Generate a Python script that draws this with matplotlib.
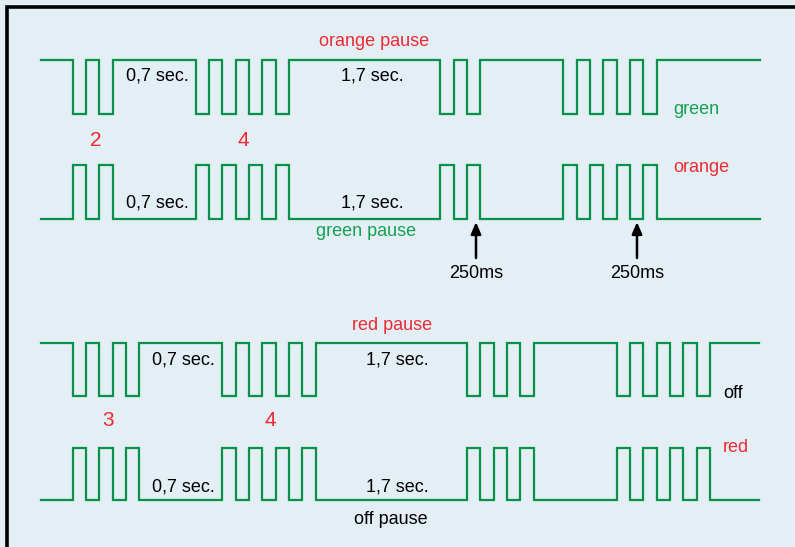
import matplotlib.pyplot as plt
import numpy as np

plt.rcParams['font.family'] = ['Liberation Sans', 'DejaVu Sans']

# timing (ms) as drawn in the diagram
pulse_ms = 250
short_pause_ms = 1556      # drawn for "0,7 sec."
long_pause_ms = 2837       # drawn for "1,7 sec."
lead_ms = 594
tail_ms = [1931, 1931, 919, 919]

# pulses per group for each trace
counts = [[2, 4, 2, 4], [2, 4, 2, 4], [3, 4, 3, 4], [3, 4, 3, 4]]
idle_high = [True, False, True, False]
# trace levels (pixel rows): (high, low)
levels = [(60, 114), (165, 219), (343, 396), (448, 500)]

BG = '#e3eef5'
GREEN_LINE = '#07924a'
GREEN_TXT = '#17a152'
RED = '#ee2a33'


def waveform(groups, tail):
    t = [0.0]
    s = [0]
    now = lead_ms
    pauses = [short_pause_ms, long_pause_ms, short_pause_ms]
    for i, n in enumerate(groups):
        for k in range(n):
            t += [now, now]
            s += [0, 1]
            now += pulse_ms
            t += [now, now]
            s += [1, 0]
            now += pulse_ms
        now -= pulse_ms
        if i < len(pauses):
            now += pauses[i]
    now += tail - 0
    t.append(now)
    s.append(0)
    return np.array(t), np.array(s)


fig = plt.figure(figsize=(7.95, 5.47), dpi=100, facecolor=BG)

# layout axes in pixels
ax = fig.add_axes([0, 0, 1, 1])
ax.set_xlim(0, 795)
ax.set_ylim(547, 0)
ax.axis('off')

# waveform axes: x in ms
px_per_ms = 0.05333
wave = fig.add_axes([0, 0, 1, 1])
wave.set_xlim(-41 / px_per_ms, (795 - 41) / px_per_ms)
wave.set_ylim(547, 0)
wave.axis('off')

for groups, tail, hi, (yh, yl) in zip(counts, tail_ms, idle_high, levels):
    t, s = waveform(groups, tail)
    if hi:
        y = np.where(s == 1, yl, yh)
    else:
        y = np.where(s == 1, yh, yl)
    wave.plot(t, y, color=GREEN_LINE, lw=1.6, solid_joinstyle='miter')

# frame
ax.plot([7, 7, 795], [547, 6.5, 6.5], color='black', lw=2.6,
        solid_joinstyle='miter', solid_capstyle='butt')

fs = 13
# top pair
ax.text(374, 41, 'orange pause', color=RED, fontsize=fs, ha='center', va='center')
ax.text(157, 76, '0,7 sec.', fontsize=fs, ha='center', va='center')
ax.text(372, 76, '1,7 sec.', fontsize=fs, ha='center', va='center')
ax.text(673, 110, 'green', color=GREEN_TXT, fontsize=fs, ha='left', va='center')
ax.text(96, 140, '2', color=RED, fontsize=fs + 2, ha='center', va='center')
ax.text(243, 140, '4', color=RED, fontsize=fs + 2, ha='center', va='center')
ax.text(673, 168, 'orange', color=RED, fontsize=fs, ha='left', va='center')
ax.text(157, 203, '0,7 sec.', fontsize=fs, ha='center', va='center')
ax.text(372, 203, '1,7 sec.', fontsize=fs, ha='center', va='center')
ax.text(366, 232, 'green pause', color=GREEN_TXT, fontsize=fs, ha='center', va='center')
for xa in (476, 637):
    ax.annotate('', xy=(xa, 222), xytext=(xa, 258),
                arrowprops=dict(arrowstyle='-|>,head_length=0.7,head_width=0.3',
                                color='black', lw=1.8, shrinkA=0, shrinkB=0))
    ax.text(xa, 273, '250ms', fontsize=fs, ha='center', va='center')

# bottom pair
ax.text(392, 325, 'red pause', color=RED, fontsize=fs, ha='center', va='center')
ax.text(183, 360, '0,7 sec.', fontsize=fs, ha='center', va='center')
ax.text(397, 360, '1,7 sec.', fontsize=fs, ha='center', va='center')
ax.text(723, 394, 'off', fontsize=fs, ha='left', va='center')
ax.text(108, 421, '3', color=RED, fontsize=fs + 2, ha='center', va='center')
ax.text(270, 421, '4', color=RED, fontsize=fs + 2, ha='center', va='center')
ax.text(723, 448, 'red', color=RED, fontsize=fs, ha='left', va='center')
ax.text(183, 487, '0,7 sec.', fontsize=fs, ha='center', va='center')
ax.text(397, 487, '1,7 sec.', fontsize=fs, ha='center', va='center')
ax.text(391, 519, 'off pause', fontsize=fs, ha='center', va='center')

fig.savefig('out.png', dpi=100, facecolor=BG)
